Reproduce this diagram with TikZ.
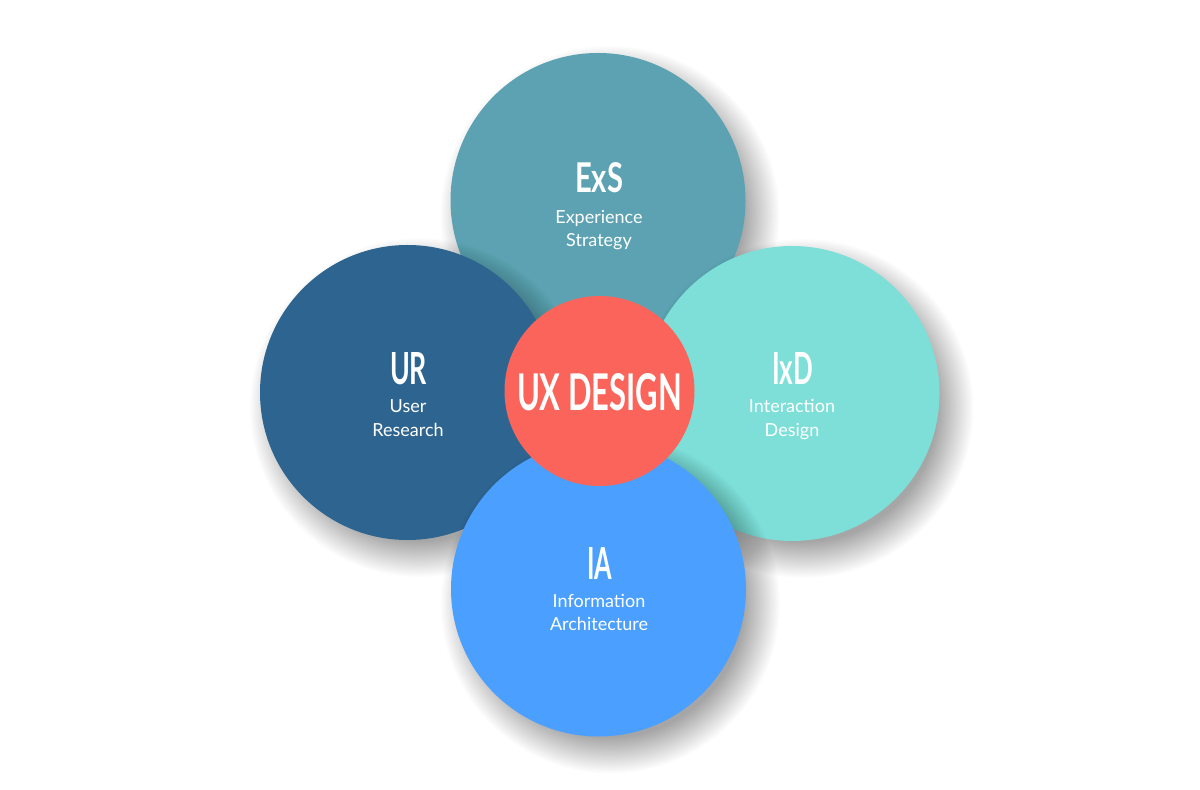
\documentclass[tikz,border=0pt]{standalone}
\usepackage{fontspec}
\setmainfont{Lato}
\usepackage{graphicx}
\definecolor{exscol}{HTML}{5CA2B2}
\definecolor{urcol}{HTML}{2E6590}
\definecolor{ixdcol}{HTML}{7EDFD9}
\definecolor{iacol}{HTML}{4BA0FF}
\definecolor{uxcol}{HTML}{FA645A}
\tikzset{
  bubble/.style={circle, inner sep=0pt, draw=none, minimum size=147.5pt},
  core/.style={circle, inner sep=0pt, draw=none, minimum size=95pt, fill=uxcol},
  ttl/.style={anchor=base, inner sep=0pt, text=white, font=\bfseries},
  sub/.style={anchor=base, inner sep=0pt, text=white, font=\fontsize{9}{10}\selectfont},
  shadowring/.style={fill=black, opacity=0.012},
}
\newcommand{\fitttl}[3]{\resizebox{#1pt}{#2pt}{#3}}
% soft shadow: centre x, centre y, radius (px)
\newcommand{\castshadow}[3]{%
  \foreach \k in {0,...,29}{%
    \fill[shadowring] (#1+12,#2+15) circle[radius={#3+22-\k*36/29}];
  }%
}
\begin{document}
\begin{tikzpicture}[x=0.5pt, y=-0.5pt]
\useasboundingbox (0,0) rectangle (1200,790);
\fill[white] (0,0) rectangle (1200,790);
% circles (order matters)
\castshadow{598}{200.5}{147.5}
\node[bubble, fill=exscol] (exs) at (598,200.5) {};
\castshadow{407.5}{392.5}{147.5}
\node[bubble, fill=urcol]  (ur)  at (407.5,392.5) {};
\castshadow{792}{393.5}{147.5}
\node[bubble, fill=ixdcol] (ixd) at (792,393.5) {};
\castshadow{598.5}{589}{147.5}
\node[bubble, fill=iacol]  (ia)  at (598.5,589) {};
\node[core] (ux) at (599.5,391) {};
% titles
\node[ttl] (exst) at (599,193) {\fitttl{24}{15}{ExS}};
\node[ttl] (urt)  at (408.5,385) {\fitttl{18.5}{16}{UR}};
\node[ttl] (ixdt) at (792.5,385) {\fitttl{20.5}{16}{IxD}};
\node[ttl] (iat)  at (599.5,580) {\fitttl{12.5}{16}{IA}};
\node[ttl] (uxt)  at (599.5,411) {\fitttl{82.5}{18.5}{UX DESIGN}};
% subtitles
\node[sub] (exs1) at (599,223.5) {Experience};
\node[sub] (exs2) at (599,246.5) {Strategy};
\node[sub] (ur1)  at (408,413) {User};
\node[sub] (ur2)  at (408,437) {Research};
\node[sub] (ixd1) at (792,413) {Interaction};
\node[sub] (ixd2) at (792,436.5) {Design};
\node[sub] (ia1)  at (599,608) {Information};
\node[sub] (ia2)  at (599,631) {Architecture};
\end{tikzpicture}
\end{document}
